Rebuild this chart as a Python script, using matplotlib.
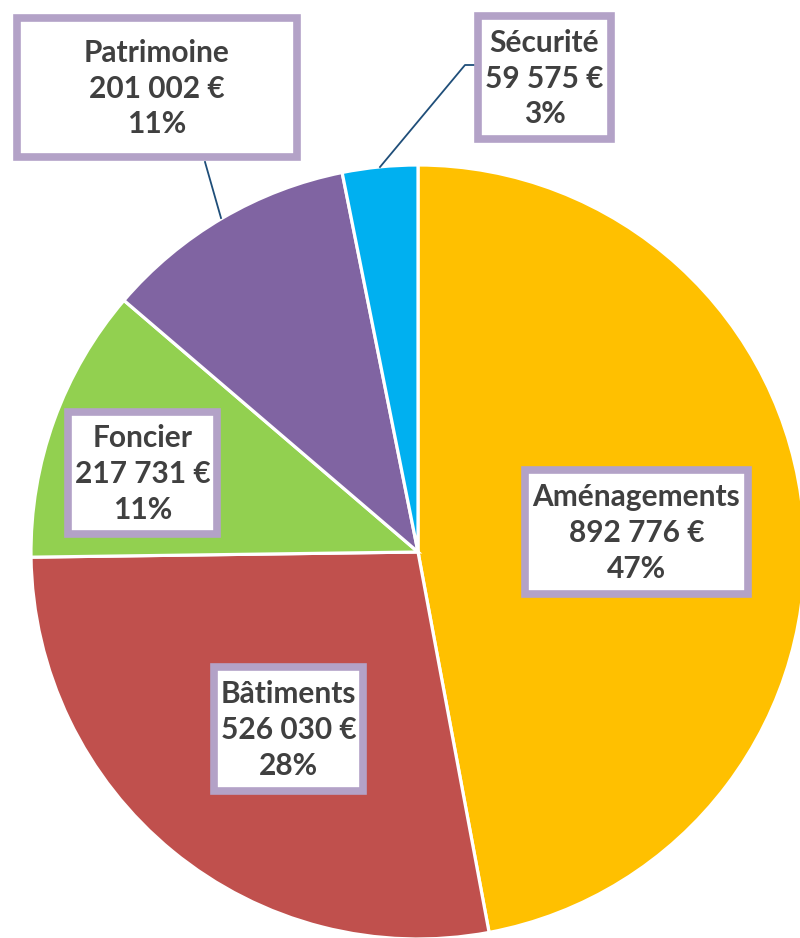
import matplotlib
matplotlib.use("Agg")
import matplotlib.pyplot as plt
from matplotlib.patches import FancyBboxPatch

plt.rcParams['font.family'] = ['Lato', 'DejaVu Sans']

categories = ['Aménagements', 'Bâtiments', 'Foncier', 'Patrimoine', 'Sécurité']
values = [892776, 526030, 217731, 201002, 59575]
colors = ['#FFC000', '#C0504D', '#92D050', '#8064A2', '#00B0F0']

# label boxes (pixel coords, top-down): x0, y0, x1, y1
boxes = [(521, 466, 752, 598), (210, 663, 367, 795), (64, 408, 221, 538),
         (13, 14, 301, 161), (474, 12, 615, 143)]

total = sum(values)

fig = plt.figure(figsize=(8, 9.38), dpi=100)
ax = fig.add_axes([0, 0, 1, 1])

# y axis gets inverted below, so counterclock=True draws clockwise on screen
ax.pie(values, colors=colors, center=(418, 552), radius=387,
       startangle=-90, counterclock=True,
       wedgeprops=dict(edgecolor='white', linewidth=2.3))

ax.set_xlim(0, 800)
ax.set_ylim(938, 0)
ax.set_aspect('equal')
ax.axis('off')

# leader lines
ax.plot([205, 221], [162, 218], color='#1F4E79', lw=1.3)
ax.plot([380, 465, 474], [167, 65, 65], color='#1F4E79', lw=1.3)

for name, v, (x0, y0, x1, y1) in zip(categories, values, boxes):
    pct = round(v / total * 100)
    amount = f"{v:,}".replace(',', ' ')
    ax.add_patch(FancyBboxPatch((x0 + 4, y0 + 4), x1 - x0 - 8, y1 - y0 - 8,
                                boxstyle='square,pad=0', facecolor='white',
                                edgecolor='#B3A2C7', linewidth=5.5, zorder=5))
    cx = (x0 + x1) / 2
    cy = (y0 + y1) / 2
    ax.text(cx, cy + 1, f"{name}\n{amount} €\n{pct}%", ha='center', va='center',
            fontsize=21.5, fontweight='bold', color='#404040',
            linespacing=1.33, zorder=6)

fig.savefig('out.png', dpi=100)
